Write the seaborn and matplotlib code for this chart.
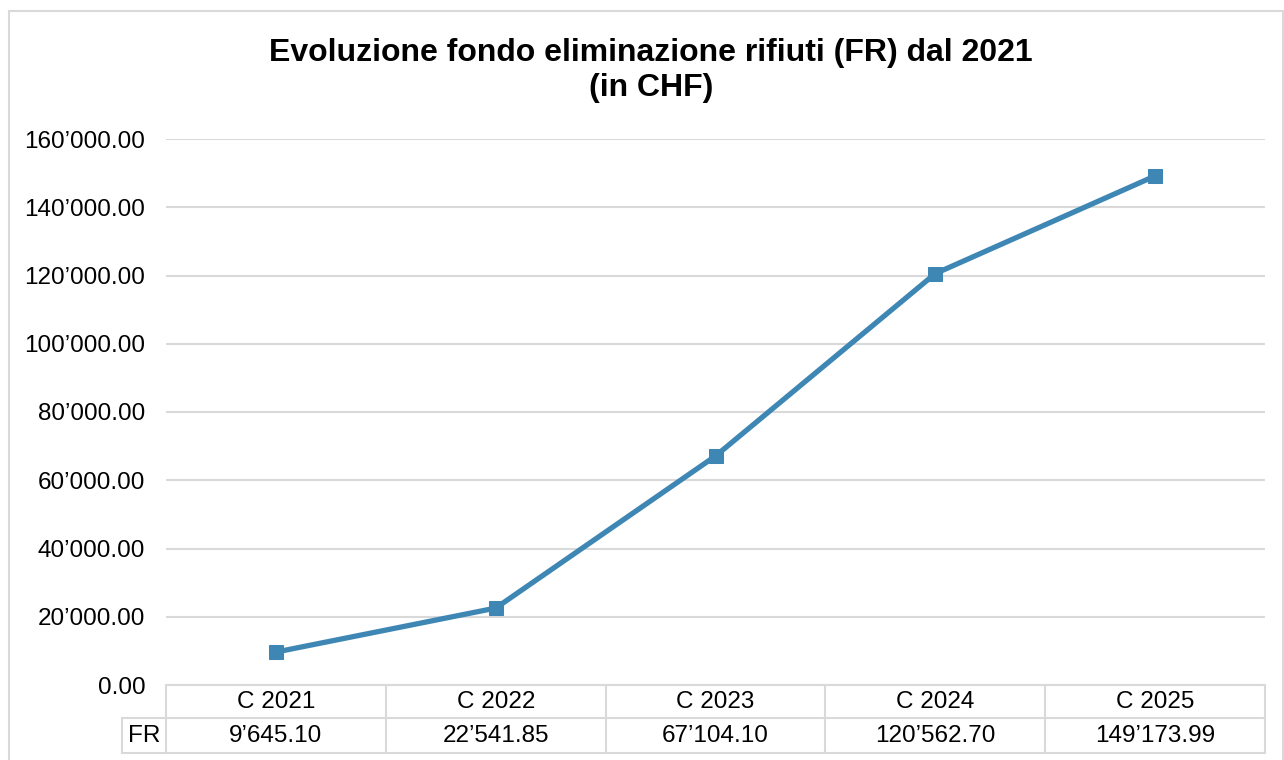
import numpy as np
import pandas as pd
import matplotlib
matplotlib.use("Agg")
import matplotlib.pyplot as plt
import matplotlib.transforms as mtransforms
from matplotlib.ticker import FuncFormatter, MultipleLocator
import seaborn as sns

categories = ["C 2021", "C 2022", "C 2023", "C 2024", "C 2025"]
series_name = "FR"
values = [9645.10, 22541.85, 67104.10, 120562.70, 149173.99]
title_lines = ["Evoluzione fondo eliminazione rifiuti (FR) dal 2021", "(in CHF)"]

sns.set_theme(style="white")
plt.rcParams['font.family'] = ['Liberation Sans', 'DejaVu Sans']

W, H = 1284, 760
fig = plt.figure(figsize=(W / 100, H / 100), dpi=100)

def fmt(v, decimals=2):
    s = f"{v:,.{decimals}f}"
    return s.replace(",", "\u2019")

LINE_C = "#3E87B4"
GRID_C = "#D9D9D9"
FS = 17.5

# outer chart border
fig.patches.append(plt.Rectangle((9 / W, -0.05), (1283 - 9) / W, (H - 11) / H + 0.05,
                                 transform=fig.transFigure, fill=False,
                                 edgecolor=GRID_C, lw=1.5))

ax_l, ax_r, ax_t, ax_b = 166, 1265, 139, 685
ax = fig.add_axes([ax_l / W, 1 - ax_b / H, (ax_r - ax_l) / W, (ax_b - ax_t) / H])

df = pd.DataFrame({"pos": np.arange(len(categories)), "val": values})
sns.lineplot(data=df, x="pos", y="val", ax=ax, color=LINE_C, lw=3.8,
             marker="s", markersize=10, markeredgecolor=LINE_C,
             markerfacecolor=LINE_C)

ax.set_xlim(-0.5, len(categories) - 0.5)
ax.set_ylim(0, 160000)
ax.yaxis.set_major_locator(MultipleLocator(20000))
ax.yaxis.set_major_formatter(FuncFormatter(lambda v, p: fmt(v)))
ax.set_xticks([])
ax.set_xlabel("")
ax.set_ylabel("")
ax.tick_params(axis="y", length=0, pad=15, labelsize=FS, labelcolor="black")
ax.grid(axis="y", color=GRID_C, lw=1.5)
ax.grid(axis="x", visible=False)
for s in ax.spines.values():
    s.set_visible(False)

# data table
trans = mtransforms.blended_transform_factory(ax.transData, ax.transAxes)
axh = ax_b - ax_t
r1 = -(718 - ax_b) / axh
r2 = -(753 - ax_b) / axh
n = len(categories)
tbl_kw = dict(color=GRID_C, lw=1.5, transform=trans, clip_on=False)
ax.plot([-0.5, n - 0.5], [0, 0], **tbl_kw)
ax.plot([-0.5, n - 0.5], [r1, r1], **tbl_kw)
ax.plot([-0.5, n - 0.5], [r2, r2], **tbl_kw)
for i in range(n + 1):
    ax.plot([i - 0.5, i - 0.5], [0, r2], **tbl_kw)
# FR label cell
fr_left = -0.5 - (ax_l - 122) / ((ax_r - ax_l) / n)
ax.plot([fr_left, -0.5], [r1, r1], **tbl_kw)
ax.plot([fr_left, -0.5], [r2, r2], **tbl_kw)
ax.plot([fr_left, fr_left], [r1, r2], **tbl_kw)

for i, (c, v) in enumerate(zip(categories, values)):
    ax.text(i, r1 / 2, c, transform=trans, ha="center", va="center",
            fontsize=FS, color="black")
    ax.text(i, (r1 + r2) / 2, fmt(v), transform=trans, ha="center", va="center",
            fontsize=FS, color="black")
ax.text((fr_left - 0.5) / 2, (r1 + r2) / 2, series_name, transform=trans,
        ha="center", va="center", fontsize=FS, color="black")

for line, base in zip(title_lines, [61, 96]):
    fig.text(651 / W, 1 - base / H, line, ha="center", va="baseline",
             fontsize=23, fontweight="bold", color="black")

fig.savefig("out.png", dpi=100)
